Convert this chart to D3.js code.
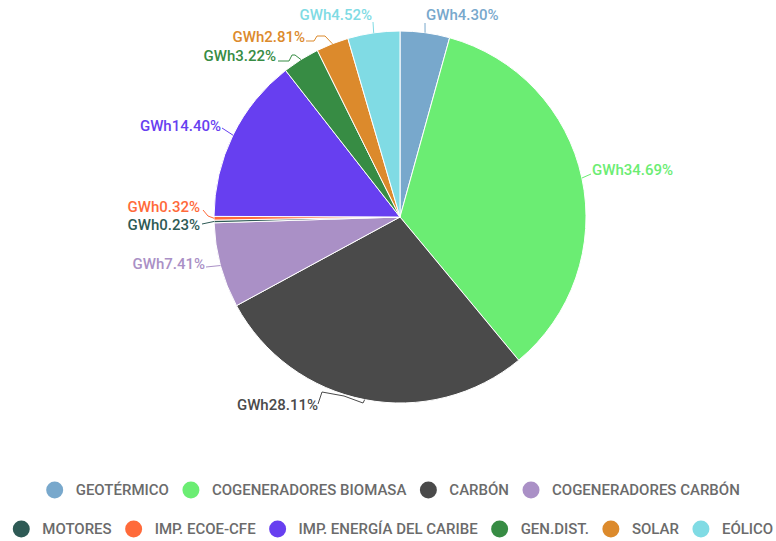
<!DOCTYPE html>
<html>
<head>
<meta charset="utf-8">
<script src="https://cdn.jsdelivr.net/npm/d3@7/dist/d3.min.js"></script>
<style>
  html, body { margin: 0; padding: 0; background: #fff; }
  svg { display: block; font-family: Roboto, "Noto Sans", sans-serif; }
</style>
</head>
<body>
<svg id="chart" width="776" height="541"></svg>
<script>
// ---- data ----
const categories = ["GEOTÉRMICO", "COGENERADORES BIOMASA", "CARBÓN", "COGENERADORES CARBÓN",
  "MOTORES", "IMP. ECOE-CFE", "IMP. ENERGÍA DEL CARIBE", "GEN.DIST.", "SOLAR", "EÓLICO"];
const values = [4.30, 34.69, 28.11, 7.41, 0.23, 0.32, 14.40, 3.22, 2.81, 4.52];
const colors = ["#78a8cc", "#6bed73", "#4a4a4a", "#aa90c6", "#2e5a55", "#ff6a3a",
  "#673ff0", "#378c44", "#dc8a2c", "#80dbe4"];
const labelPrefix = "GWh";

// ---- layout (label placement, not data) ----
// x,y: text anchor edge and vertical centre; bends: leader-line points relative to the text edge
const labelLayout = [
  {x: 426, y: 15, anchor: "start", bends: [[-1, 8]]},
  {x: 592, y: 170, anchor: "start", bends: [[-1, 4]]},
  {x: 318, y: 405, anchor: "end", bends: [[0, -1], [4, -13], [26, -9], [45, -2]]},
  {x: 205, y: 264, anchor: "end", bends: [[1, 3]]},
  {x: 200, y: 225, anchor: "end", bends: [[2, -1]]},
  {x: 200, y: 207, anchor: "end", bends: [[3, 3], [8, 9]]},
  {x: 221, y: 126, anchor: "end", bends: [[1, 2]]},
  {x: 276, y: 56, anchor: "end", bends: [[2, 5], [13, 5], [16, -1], [19, -1]]},
  {x: 305, y: 37, anchor: "end", bends: [[1, 4], [9, 4], [12, -1], [20, -1]]},
  {x: 372, y: 15, anchor: "end", bends: [[1, 7]]}
];

const svg = d3.select("#chart");
const cx = 400, cy = 217, R = 186;

const pie = d3.pie().sort(null).value(d => d.v).startAngle(0).endAngle(2 * Math.PI);
const data = categories.map((c, i) => ({c, v: values[i], col: colors[i], lay: labelLayout[i]}));
const arcs = pie(data);
const arc = d3.arc().innerRadius(0).outerRadius(R);

const g = svg.append("g").attr("transform", `translate(${cx},${cy})`);
g.selectAll("path.slice").data(arcs).join("path")
  .attr("class", "slice")
  .attr("d", arc)
  .attr("fill", d => d.data.col)
  .attr("stroke", "#fff")
  .attr("stroke-width", 1)
  .attr("stroke-linejoin", "round");

// labels and leader lines
const lblG = svg.append("g");
arcs.forEach(a => {
  const L = a.data.lay;
  const mid = (a.startAngle + a.endAngle) / 2;
  const ax = cx + R * Math.sin(mid), ay = cy - R * Math.cos(mid);
  const pts = L.bends.map(b => [L.x + b[0], L.y + b[1]]);
  pts.push([ax, ay]);
  lblG.append("path")
    .attr("d", d3.line()(pts))
    .attr("fill", "none")
    .attr("stroke", a.data.col)
    .attr("stroke-width", 1);
  lblG.append("text")
    .attr("x", L.x).attr("y", L.y)
    .attr("text-anchor", L.anchor)
    .attr("dominant-baseline", "central")
    .attr("font-size", 15)
    .attr("font-weight", 500)
    .attr("fill", a.data.col)
    .text(labelPrefix + d3.format(".2f")(a.data.v) + "%");
});

// legend
const rows = [[0, 1, 2, 3], [4, 5, 6, 7, 8, 9]];
const rowY = [490, 529];
const legCenter = 393;
const circR = 8.5, gapIcon = 12.5, gapItem = 13.5;
const legG = svg.append("g");
rows.forEach((row, ri) => {
  const items = row.map(i => {
    const gi = legG.append("g");
    gi.append("circle").attr("r", circR).attr("fill", colors[i]);
    const t = gi.append("text")
      .attr("x", circR + gapIcon)
      .attr("dominant-baseline", "central")
      .attr("font-size", 15)
      .attr("font-weight", 500)
      .attr("fill", "#6b6b6b")
      .text(categories[i]);
    return {gi, w: 2 * circR + gapIcon + t.node().getComputedTextLength()};
  });
  const total = d3.sum(items, d => d.w) + gapItem * (items.length - 1);
  let x = legCenter - total / 2;
  items.forEach(it => {
    it.gi.attr("transform", `translate(${x + circR},${rowY[ri]})`);
    x += it.w + gapItem;
  });
});
</script>
</body>
</html>
